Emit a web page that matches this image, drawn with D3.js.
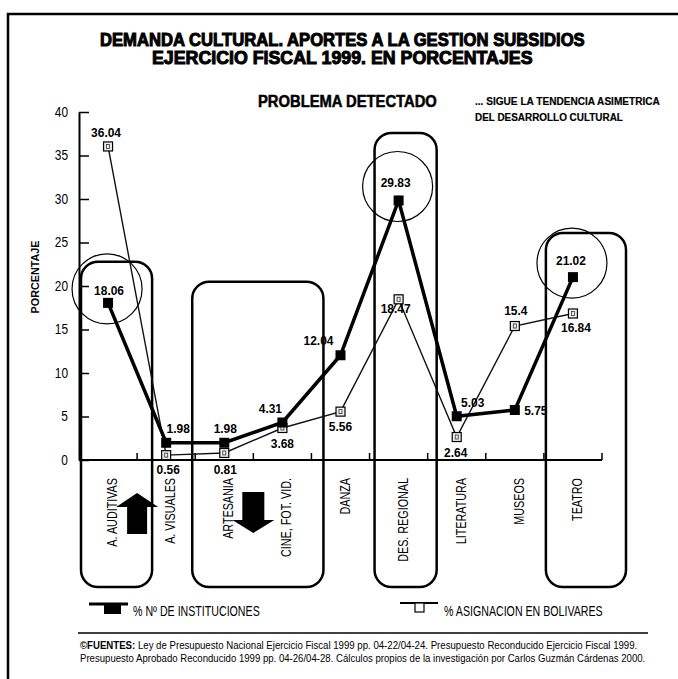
<!DOCTYPE html>
<html>
<head>
<meta charset="UTF-8">
<title>Demanda cultural 1999</title>
<script src="https://cdn.jsdelivr.net/npm/d3@7"></script>
<style>
  body { margin: 0; background: #fff; }
  text { font-family: "Liberation Sans", Arial, sans-serif; fill: #000; }
</style>
</head>
<body>
<svg width="678" height="679"></svg>
<script>
// datos
var categories = ["A. AUDITIVAS", "A. VISUALES", "ARTESANIA", "CINE, FOT. VID.", "DANZA",
                  "DES. REGIONAL", "LITERATURA", "MUSEOS", "TEATRO"];
var instituciones = [18.06, 1.98, 1.98, 4.31, 12.04, 29.83, 5.03, 5.75, 21.02];
var asignacion = [36.04, 0.56, 0.81, 3.68, 5.56, 18.47, 2.64, 15.4, 16.84];
var yTicks = [0, 5, 10, 15, 20, 25, 30, 35, 40];
var circled = [0, 5, 8];               // puntos rodeados con circulo
var boxGroups = [[0, 0], [2, 3], [5, 5], [8, 8]];  // categorias dentro de cada recuadro
var boxTops = [22.8, 20.5, 37.6, 26.1];

// ajustes de posicion de las etiquetas (dx, dy en px)
var instOff = [[1,-13],[12,-15],[1,-15],[-12,-15],[-22,-15],[-3,-18],[16,-14],[21,0],[-2,-17]];
var asigOff = [[-2,-14],[2,14],[1,16],[0,15],[0,14],[-3,9],[-1,15],[1,-16],[3,14]];
var boxPad = [[2,15],[-3,12],[5,9],[2,24]];

var svg = d3.select("svg");
var g = svg.append("g");

var x = d3.scaleBand().domain(categories).range([79, 602]);
var y = d3.scaleLinear().domain([0, 40]).range([460, 112]);
var bw = x.bandwidth();
function cx(i){ return x(categories[i]) + bw / 2; }

// letra condensada: escala horizontal del texto (k fijo o ancho deseado)
function condense(sel, k){
  sel.each(function(){
    var t = d3.select(this);
    var tx = +t.attr("x") || 0, ty = +t.attr("y") || 0;
    var tr = t.attr("transform") || "";
    var kk = typeof k === "function" ? k.call(this) : k;
    t.attr("x", null).attr("y", null)
      .attr("transform", tr + " translate(" + tx + "," + ty + ") scale(" + kk + ",1)");
  });
}
function fit(sel, w){
  condense(sel, function(){ return w / this.getComputedTextLength(); });
}

// marco
svg.append("path")
  .attr("d", "M8,679 L8,14 L678,14")
  .attr("fill", "none").attr("stroke", "#000").attr("stroke-width", 2.5);

// titulos
svg.append("text").attr("x", 100).attr("y", 46)
  .attr("font-size", 18).attr("font-weight", "bold")
  .attr("stroke", "#000").attr("stroke-width", 1)
  .text("DEMANDA CULTURAL. APORTES A LA GESTION SUBSIDIOS")
  .call(fit, 485);
svg.append("text").attr("x", 152).attr("y", 64)
  .attr("font-size", 18).attr("font-weight", "bold")
  .attr("stroke", "#000").attr("stroke-width", 1)
  .text("EJERCICIO FISCAL 1999. EN PORCENTAJES")
  .call(fit, 381);
svg.append("text").attr("x", 258).attr("y", 107)
  .attr("font-size", 16).attr("font-weight", "bold")
  .attr("stroke", "#000").attr("stroke-width", 0.5)
  .text("PROBLEMA DETECTADO")
  .call(fit, 179);
svg.append("text").attr("x", 475).attr("y", 105)
  .attr("font-size", 11).attr("font-weight", "bold")
  .attr("stroke", "#000").attr("stroke-width", 0.2)
  .text("... SIGUE LA TENDENCIA ASIMETRICA")
  .call(fit, 185);
svg.append("text").attr("x", 475).attr("y", 121)
  .attr("font-size", 11).attr("font-weight", "bold")
  .attr("stroke", "#000").attr("stroke-width", 0.2)
  .text("DEL DESARROLLO CULTURAL")
  .call(fit, 148);

// recuadros redondeados
g.append("g").selectAll("rect")
  .data(boxGroups)
  .enter()
  .append("rect")
  .attr("x", function(d, i){ return x(categories[d[0]]) + boxPad[i][0]; })
  .attr("width", function(d, i){
    return x(categories[d[1]]) + bw + boxPad[i][1] - x(categories[d[0]]) - boxPad[i][0];
  })
  .attr("y", function(d, i){ return y(boxTops[i]); })
  .attr("height", function(d, i){ return 587 - y(boxTops[i]); })
  .attr("rx", 17).attr("ry", 17)
  .attr("fill", "none").attr("stroke", "#000").attr("stroke-width", 2.5);

// eje y
var yAxis = d3.axisLeft(y).tickValues(yTicks).tickSize(-10).tickSizeOuter(0).tickPadding(11);
var ay = g.append("g").attr("transform", "translate(79,0)").call(yAxis);
ay.select(".domain").attr("stroke-width", 2);
ay.selectAll(".tick line").attr("stroke-width", 1.5);
ay.selectAll("text").attr("font-size", 14).attr("font-family", null).call(condense, 0.85);

svg.append("text")
  .attr("transform", "translate(39,277) rotate(-90)")
  .attr("text-anchor", "middle")
  .attr("font-size", 11).attr("font-weight", "bold")
  .text("PORCENTAJE")
  .call(fit, 73);

// eje x
g.append("line")
  .attr("x1", 79).attr("x2", x.range()[1])
  .attr("y1", y(0)).attr("y2", y(0))
  .attr("stroke", "#000").attr("stroke-width", 2);
g.append("g").selectAll("line")
  .data(categories)
  .enter()
  .append("line")
  .attr("x1", function(d){ return x(d) + bw; })
  .attr("x2", function(d){ return x(d) + bw; })
  .attr("y1", y(0)).attr("y2", y(0) - 7)
  .attr("stroke", "#000").attr("stroke-width", 1.5);

// etiquetas de categorias
g.append("g").selectAll("text")
  .data(categories)
  .enter()
  .append("text")
  .attr("transform", function(d){ return "translate(" + (x(d) + bw / 2 + 9) + ",478) rotate(-90)"; })
  .attr("text-anchor", "end")
  .attr("font-size", 14)
  .text(function(d){ return d; })
  .call(condense, 0.77);

// flechas
var arrowUpX = x(categories[0]) + bw, arrowDnX = x(categories[2]) + bw;
g.append("path")
  .attr("d", "M" + arrowUpX + ",493 l21,14 l-11,0 l0,27 l-20,0 l0,-27 l-11,0 z")
  .attr("fill", "#000");
g.append("path")
  .attr("d", "M" + (arrowDnX - 11) + ",492 l22,0 l0,28 l10,0 l-21,13 l-21,-13 l10,0 z")
  .attr("fill", "#000");

// circulos
g.append("g").selectAll("circle")
  .data(circled)
  .enter()
  .append("circle")
  .attr("cx", function(i){ return cx(i) - 1; })
  .attr("cy", function(i){ return y(instituciones[i]) - 14; })
  .attr("r", 35)
  .attr("fill", "none").attr("stroke", "#000").attr("stroke-width", 1.2);

// linea asignacion
var line = d3.line()
  .x(function(d, i){ return cx(i); })
  .y(function(d){ return y(d); });
g.append("path").datum(asignacion)
  .attr("d", line)
  .attr("fill", "none").attr("stroke", "#111").attr("stroke-width", 1.4);

// linea instituciones
g.append("path").datum(instituciones)
  .attr("d", line)
  .attr("fill", "none").attr("stroke", "#000").attr("stroke-width", 3.5);

// marcadores
var sq = g.append("g").selectAll("g")
  .data(asignacion)
  .enter()
  .append("g")
  .attr("transform", function(d, i){ return "translate(" + cx(i) + "," + y(d) + ")"; });
sq.append("rect")
  .attr("x", -4.5).attr("y", -4.5).attr("width", 9).attr("height", 9)
  .attr("fill", "#eee").attr("stroke", "#000").attr("stroke-width", 1.2);
sq.append("rect")
  .attr("x", -1.5).attr("y", -2).attr("width", 3).attr("height", 4)
  .attr("fill", "none").attr("stroke", "#333").attr("stroke-width", 0.8);

g.append("g").selectAll("rect")
  .data(instituciones)
  .enter()
  .append("rect")
  .attr("x", function(d, i){ return cx(i) - 5; })
  .attr("y", function(d){ return y(d) - 5; })
  .attr("width", 10).attr("height", 10)
  .attr("fill", "#000");

// etiquetas de valores
g.append("g").selectAll("text")
  .data(instituciones)
  .enter()
  .append("text")
  .attr("x", function(d, i){ return cx(i) + instOff[i][0]; })
  .attr("y", function(d, i){ return y(d) + instOff[i][1] + 5; })
  .attr("text-anchor", "middle")
  .attr("font-size", 13).attr("font-weight", "bold")
  .text(function(d){ return d; })
  .call(condense, 0.92);
g.append("g").selectAll("text")
  .data(asignacion)
  .enter()
  .append("text")
  .attr("x", function(d, i){ return cx(i) + asigOff[i][0]; })
  .attr("y", function(d, i){ return y(d) + asigOff[i][1] + 5; })
  .attr("text-anchor", "middle")
  .attr("font-size", 13).attr("font-weight", "bold")
  .text(function(d){ return d; })
  .call(condense, 0.92);

// leyenda
var leg = svg.append("g");
leg.append("line").attr("x1", 89).attr("x2", 128).attr("y1", 604).attr("y2", 604)
  .attr("stroke", "#000").attr("stroke-width", 3);
leg.append("rect").attr("x", 104).attr("y", 604).attr("width", 17).attr("height", 10).attr("fill", "#000");
leg.append("text").attr("x", 133).attr("y", 616).attr("font-size", 14)
  .text("% Nº DE INSTITUCIONES").call(condense, 0.76);
leg.append("line").attr("x1", 400).attr("x2", 438).attr("y1", 603).attr("y2", 603)
  .attr("stroke", "#000").attr("stroke-width", 2);
leg.append("rect").attr("x", 415).attr("y", 603).attr("width", 9).attr("height", 9)
  .attr("fill", "#fff").attr("stroke", "#000").attr("stroke-width", 1.2);
leg.append("text").attr("x", 444).attr("y", 616).attr("font-size", 14)
  .text("% ASIGNACION EN BOLIVARES").call(condense, 0.76);

// fuentes
svg.append("line").attr("x1", 78).attr("x2", 648).attr("y1", 633).attr("y2", 633)
  .attr("stroke", "#000").attr("stroke-width", 1.5);
var f1 = svg.append("text").attr("x", 80).attr("y", 649).attr("font-size", 11);
f1.append("tspan").attr("font-weight", "bold").text("©FUENTES:");
f1.append("tspan").text(" Ley de Presupuesto Nacional Ejercicio Fiscal 1999 pp. 04-22/04-24. Presupuesto Reconducido Ejercicio Fiscal 1999.");
f1.call(fit, 558);
svg.append("text").attr("x", 80).attr("y", 662).attr("font-size", 11)
  .text("Presupuesto Aprobado Reconducido 1999 pp. 04-26/04-28. Cálculos propios de la investigación por Carlos Guzmán Cárdenas 2000.")
  .call(fit, 566);
</script>
</body>
</html>
